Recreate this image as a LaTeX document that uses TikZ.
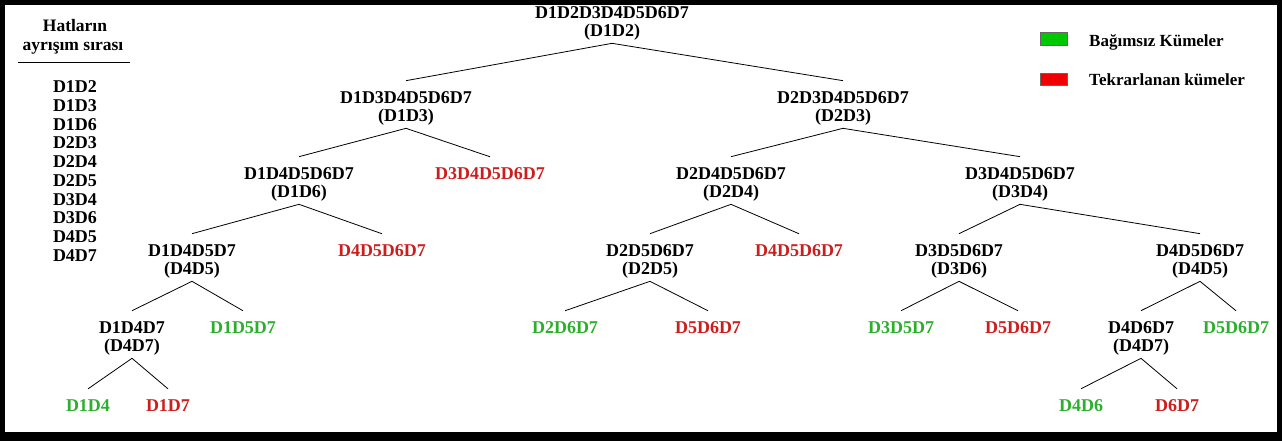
\documentclass[tikz,border=0pt]{standalone}
\usepackage{fontspec}
\setmainfont{Liberation Serif}
\definecolor{grn}{RGB}{45,175,45}
\definecolor{rd}{RGB}{205,30,30}
\definecolor{lgrn}{RGB}{0,200,0}
\definecolor{lrd}{RGB}{240,0,0}
\begin{document}
\begin{tikzpicture}[x=1pt,y=-1pt,
  tn/.style={inner sep=0pt,align=center,font=\fontsize{18}{17.5}\selectfont\bfseries},
  red/.style={tn,text=rd},
  green/.style={tn,text=grn},
  edge/.style={line width=0.8pt},
  listitem/.style={inner sep=0pt,font=\fontsize{18}{18}\selectfont\bfseries},
  headtext/.style={inner sep=0pt,font=\fontsize{17.5}{17.5}\selectfont\bfseries},
  legtext/.style={inner sep=0pt,anchor=west,font=\fontsize{17}{17}\selectfont\bfseries},
  legbox/.style={draw=black!60,line width=0.6pt}
]
\fill[black] (0,0) rectangle (1282,441);
\fill[white] (5,5) rectangle (1277,432);
\useasboundingbox (0,0) rectangle (1282,441);

% left list
\node[headtext] (h1) at (75,26) {Hatların};
\node[headtext] (h2) at (73,48) {ayrışım sırası};
\coordinate (ul1) at (18,62);
\coordinate (ul2) at (130,62);
\draw[line width=0.8pt] (ul1) -- (ul2);
\foreach \t [count=\i from 0] in {D1D2,D1D3,D1D6,D2D3,D2D4,D2D5,D3D4,D3D6,D4D5,D4D7}
  \node[listitem] (l\i) at (75,87+18.7*\i) {\t};

% legend
\fill[lgrn] (1040,32) rectangle (1067,45);
\draw[legbox] (1040,32) rectangle (1067,45);
\fill[lrd] (1040,73) rectangle (1067,85);
\draw[legbox] (1040,73) rectangle (1067,85);
\node[legtext] (lg1) at (1089,42) {Bağımsız Kümeler};
\node[legtext] (lg2) at (1089,80) {Tekrarlanan kümeler};

% tree nodes
\node[tn] (root) at (612,23.5) {D1D2D3D4D5D6D7\\(D1D2)};
\node[tn] (a) at (406,108.5) {D1D3D4D5D6D7\\(D1D3)};
\node[tn] (b) at (843,108.5) {D2D3D4D5D6D7\\(D2D3)};
\node[tn] (aa) at (299,184.5) {D1D4D5D6D7\\(D1D6)};
\node[red] (ab) at (490,174) {D3D4D5D6D7};
\node[tn] (ba) at (731,184.5) {D2D4D5D6D7\\(D2D4)};
\node[tn] (bb) at (1020,184.5) {D3D4D5D6D7\\(D3D4)};
\node[tn] (aaa) at (192,261.5) {D1D4D5D7\\(D4D5)};
\node[red] (aab) at (382,251) {D4D5D6D7};
\node[tn] (baa) at (650,261.5) {D2D5D6D7\\(D2D5)};
\node[red] (bab) at (799,251) {D4D5D6D7};
\node[tn] (bba) at (959,261.5) {D3D5D6D7\\(D3D6)};
\node[tn] (bbb) at (1200,261.5) {D4D5D6D7\\(D4D5)};
\node[tn] (aaaa) at (132,338.5) {D1D4D7\\(D4D7)};
\node[green] (aaab) at (243,328) {D1D5D7};
\node[green] (baaa) at (565,328) {D2D6D7};
\node[red] (baab) at (708,328) {D5D6D7};
\node[green] (bbaa) at (901,328) {D3D5D7};
\node[red] (bbab) at (1018,328) {D5D6D7};
\node[tn] (bbba) at (1141,338.5) {D4D6D7\\(D4D7)};
\node[green] (bbbb) at (1236,328) {D5D6D7};
\node[green] (aaaaa) at (88,406) {D1D4};
\node[red] (aaaab) at (168,406) {D1D7};
\node[green] (bbbaa) at (1081,406) {D4D6};
\node[red] (bbbab) at (1177,406) {D6D7};

% connectors
\foreach \p/\c in {root/a,root/b,a/aa,a/ab,b/ba,b/bb,aa/aaa,aa/aab,ba/baa,ba/bab,bb/bba,bb/bbb,
  aaa/aaaa,aaa/aaab,baa/baaa,baa/baab,bba/bbaa,bba/bbab,bbb/bbba,bbb/bbbb,aaaa/aaaaa,aaaa/aaaab,bbba/bbbaa,bbba/bbbab}
  \draw[edge] ([yshift=-3pt]\p.south) -- ([yshift=11pt]\c.north);
\end{tikzpicture}
\end{document}
